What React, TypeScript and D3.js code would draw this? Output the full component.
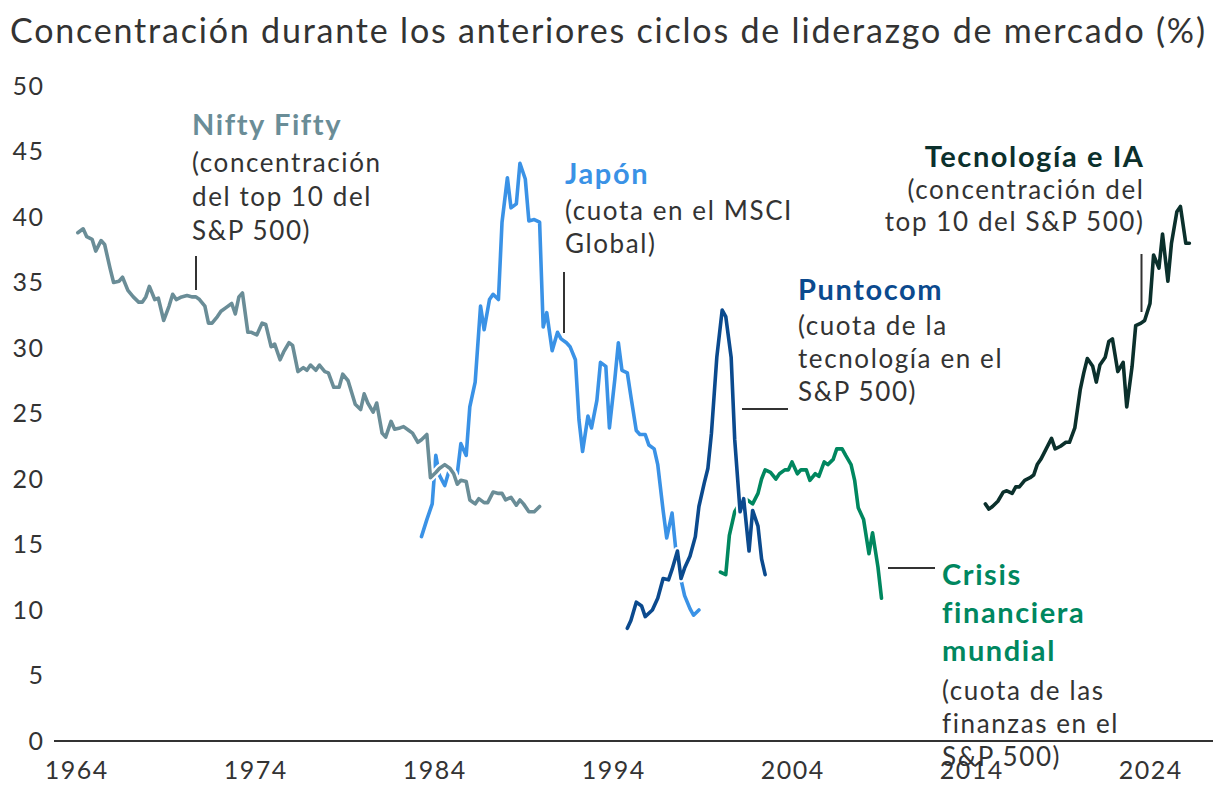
import React from "react";
import * as d3 from "d3";

type Pt = [number, number];

const yTicks = [0, 5, 10, 15, 20, 25, 30, 35, 40, 45, 50];
const xTicks = [1964, 1974, 1984, 1994, 2004, 2014, 2024];

const niftyFifty: Pt[] = [
  [1964.1, 38.8], [1964.4, 39.1], [1964.6, 38.5], [1964.9, 38.3], [1965.1, 37.4], [1965.4, 38.2], [1965.6, 37.9], [1965.9, 36.1],
  [1966.1, 35.0], [1966.4, 35.1], [1966.6, 35.4], [1966.9, 34.4], [1967.2, 33.9], [1967.5, 33.5], [1967.7, 33.5], [1967.9, 33.9],
  [1968.1, 34.7], [1968.4, 33.7], [1968.6, 33.8], [1968.9, 32.1], [1969.2, 33.2], [1969.4, 34.1], [1969.6, 33.7], [1969.9, 33.9],
  [1970.2, 34.0], [1970.5, 33.9], [1970.7, 33.9], [1970.9, 33.7], [1971.2, 33.2], [1971.4, 31.9], [1971.6, 31.9], [1971.9, 32.4],
  [1972.1, 32.8], [1972.4, 33.1], [1972.7, 33.4], [1972.9, 32.6], [1973.1, 33.9], [1973.3, 34.2], [1973.6, 31.2], [1973.8, 31.2],
  [1974.1, 31.0], [1974.4, 31.9], [1974.6, 31.8], [1974.9, 30.1], [1975.1, 30.3], [1975.4, 29.1], [1975.6, 29.7], [1975.9, 30.4],
  [1976.1, 30.2], [1976.4, 28.2], [1976.7, 28.5], [1976.9, 28.3], [1977.1, 28.7], [1977.4, 28.3], [1977.6, 28.7], [1977.9, 28.2],
  [1978.1, 28.1], [1978.4, 27.0], [1978.7, 27.0], [1978.9, 28.0], [1979.2, 27.5], [1979.4, 26.6], [1979.6, 25.7], [1979.9, 25.3],
  [1980.1, 26.5], [1980.3, 25.8], [1980.6, 25.1], [1980.8, 25.8], [1981.1, 23.5], [1981.3, 23.2], [1981.6, 24.4], [1981.8, 23.8],
  [1982.1, 23.9], [1982.3, 24.0], [1982.6, 23.7], [1982.8, 23.5], [1983.1, 22.8], [1983.3, 23.0], [1983.6, 23.4], [1983.8, 20.1],
  [1984.1, 20.5], [1984.3, 20.8], [1984.6, 21.1], [1984.9, 20.8], [1985.1, 20.4], [1985.3, 19.6], [1985.5, 19.9], [1985.8, 19.8],
  [1986.0, 18.4], [1986.3, 18.1], [1986.5, 18.5], [1986.8, 18.2], [1987.0, 18.2], [1987.3, 19.0], [1987.6, 18.9], [1987.8, 18.9],
  [1988.0, 18.4], [1988.3, 18.6], [1988.6, 18.0], [1988.8, 18.4], [1989.0, 18.1], [1989.3, 17.5], [1989.6, 17.5], [1989.9, 17.9],
];

const japan: Pt[] = [
  [1983.3, 15.6], [1983.6, 16.9], [1983.9, 18.1], [1984.1, 21.8], [1984.3, 20.3], [1984.6, 19.5], [1984.9, 20.9], [1985.1, 20.6],
  [1985.3, 20.4], [1985.5, 22.7], [1985.8, 21.8], [1986.0, 25.5], [1986.3, 27.4], [1986.6, 33.2], [1986.8, 31.4], [1987.1, 33.7],
  [1987.3, 34.1], [1987.6, 33.7], [1987.8, 39.6], [1988.1, 43.0], [1988.3, 40.7], [1988.6, 41.0], [1988.8, 44.1], [1989.1, 42.9],
  [1989.3, 39.7], [1989.6, 39.8], [1989.9, 39.6], [1990.1, 31.6], [1990.3, 32.7], [1990.6, 29.8], [1990.9, 31.2], [1991.1, 30.7],
  [1991.4, 30.4], [1991.6, 30.1], [1991.9, 29.1], [1992.1, 24.5], [1992.3, 22.1], [1992.6, 24.8], [1992.8, 23.9], [1993.1, 26.0],
  [1993.3, 28.9], [1993.6, 28.6], [1993.8, 23.9], [1994.1, 27.6], [1994.3, 30.4], [1994.5, 28.3], [1994.8, 28.1], [1995.0, 26.3],
  [1995.3, 23.7], [1995.5, 23.4], [1995.8, 23.4], [1996.0, 22.6], [1996.3, 22.3], [1996.5, 21.1], [1996.8, 17.6], [1997.0, 15.5],
  [1997.3, 17.4], [1997.5, 14.7], [1997.8, 12.3], [1998.0, 11.1], [1998.3, 10.1], [1998.5, 9.6], [1998.8, 10.0],
];

const dotcom: Pt[] = [
  [1994.8, 8.6], [1995.0, 9.2], [1995.3, 10.6], [1995.6, 10.3], [1995.8, 9.5], [1996.2, 10.0], [1996.5, 10.9], [1996.8, 12.4],
  [1997.1, 12.3], [1997.3, 13.1], [1997.6, 14.5], [1997.8, 12.4], [1998.0, 13.2], [1998.3, 14.1], [1998.6, 15.6], [1998.8, 17.9],
  [1999.1, 19.7], [1999.3, 20.8], [1999.5, 23.5], [1999.8, 29.3], [2000.1, 32.9], [2000.3, 32.4], [2000.6, 29.3], [2000.8, 23.0],
  [2001.1, 17.5], [2001.3, 18.5], [2001.6, 14.5], [2001.8, 17.6], [2002.1, 16.4], [2002.3, 13.9], [2002.5, 12.7],
];

const financialCrisis: Pt[] = [
  [2000.0, 12.9], [2000.3, 12.7], [2000.5, 15.7], [2000.8, 17.5], [2001.1, 18.2], [2001.3, 18.6], [2001.6, 18.3], [2001.8, 18.1],
  [2002.1, 18.9], [2002.3, 20.0], [2002.5, 20.7], [2002.8, 20.5], [2003.1, 20.0], [2003.3, 20.4], [2003.6, 20.7], [2003.8, 20.7],
  [2004.0, 21.3], [2004.3, 20.4], [2004.5, 20.7], [2004.8, 20.7], [2005.0, 19.9], [2005.3, 20.4], [2005.5, 20.2], [2005.8, 21.3],
  [2006.0, 21.1], [2006.3, 21.5], [2006.5, 22.3], [2006.8, 22.3], [2007.0, 21.8], [2007.3, 21.1], [2007.5, 19.9], [2007.7, 17.8],
  [2008.0, 16.9], [2008.3, 14.3], [2008.5, 15.9], [2008.8, 13.3], [2009.0, 10.9],
];

const techAI: Pt[] = [
  [2014.8, 18.1], [2015.0, 17.7], [2015.2, 17.9], [2015.5, 18.3], [2015.8, 19.0], [2016.0, 19.1], [2016.3, 18.9], [2016.5, 19.4],
  [2016.7, 19.4], [2017.0, 19.9], [2017.3, 20.1], [2017.5, 20.3], [2017.7, 21.1], [2017.9, 21.5], [2018.2, 22.3], [2018.5, 23.1],
  [2018.7, 22.3], [2019.0, 22.5], [2019.3, 22.8], [2019.5, 22.8], [2019.8, 23.9], [2020.1, 26.8], [2020.3, 28.1], [2020.5, 29.2],
  [2020.8, 28.6], [2021.0, 27.4], [2021.2, 28.7], [2021.5, 29.3], [2021.7, 30.5], [2021.9, 30.7], [2022.2, 28.2], [2022.5, 28.9],
  [2022.7, 25.5], [2023.0, 28.6], [2023.2, 31.7], [2023.5, 31.9], [2023.7, 32.1], [2024.0, 33.4], [2024.2, 37.1], [2024.5, 36.1],
  [2024.7, 38.7], [2025.0, 35.1], [2025.2, 38.0], [2025.5, 40.4], [2025.7, 40.8], [2026.0, 38.0], [2026.2, 38.0],
];

const W = 1220;
const H = 790;
const FONT = "Lato, 'Noto Sans', sans-serif";
const TEXT = "#333333";
const SUB_SIZE = 26;
const SUB_LS = 1.6;
const BOLD_SIZE = 29;
const BOLD_LS = 1.6;

const x = d3.scaleLinear().domain([1964, 2024]).range([76, 1150]);
const y = d3.scaleLinear().domain([0, 50]).range([741, 86]);

const line = d3
  .line<Pt>()
  .x((d) => x(d[0]))
  .y((d) => y(d[1]))
  .curve(d3.curveLinear);

const seriesOrder: { data: Pt[]; color: string }[] = [
  { data: japan, color: "#3A92E6" },
  { data: niftyFifty, color: "#6A8D97" },
  { data: financialCrisis, color: "#00875F" },
  { data: dotcom, color: "#0B4A8E" },
  { data: techAI, color: "#0B302C" },
];

function Label(props: {
  x: number;
  y: number;
  title: string[];
  sub: string[];
  color: string;
  anchor?: "start" | "end";
  titleGap?: number;
  subGap?: number;
  firstSubGap?: number;
}) {
  const { title, sub, color } = props;
  const anchor = props.anchor || "start";
  const tg = props.titleGap ?? 38;
  const sg = props.subGap ?? 33;
  const fsg = props.firstSubGap ?? 36;
  const lastTitleY = props.y + (title.length - 1) * tg;
  const bx = anchor === "end" ? props.x + BOLD_LS : props.x;
  const sx = anchor === "end" ? props.x + SUB_LS : props.x;
  return (
    <g fontFamily={FONT} textAnchor={anchor}>
      {title.map((t, i) => (
        <text
          key={"t" + i}
          x={bx}
          y={props.y + i * tg}
          fill={color}
          fontWeight={700}
          fontSize={BOLD_SIZE}
          letterSpacing={BOLD_LS}
        >
          {t}
        </text>
      ))}
      {sub.map((t, i) => (
        <text
          key={"s" + i}
          x={sx}
          y={lastTitleY + fsg + i * sg}
          fill={TEXT}
          fontSize={SUB_SIZE}
          letterSpacing={SUB_LS}
        >
          {t}
        </text>
      ))}
    </g>
  );
}

export default function App() {
  return (
    <svg
      width={W}
      height={H}
      viewBox={`0 0 ${W} ${H}`}
      style={{ position: "absolute", left: 0, top: 0, background: "#fff" }}
    >
      <rect x={0} y={0} width={W} height={H} fill="#fff" />
      <text
        x={10}
        y={43}
        fontFamily={FONT}
        fontSize={34}
        fill={TEXT}
        textLength={1195}
        lengthAdjust="spacing"
      >
        Concentración durante los anteriores ciclos de liderazgo de mercado (%)
      </text>

      {yTicks.map((t) => (
        <text
          key={t}
          x={44.5}
          y={y(t)}
          dy="0.35em"
          textAnchor="end"
          fontFamily={FONT}
          fontSize={25}
          letterSpacing={1.5}
          fill={TEXT}
        >
          {t}
        </text>
      ))}
      {xTicks.map((t) => (
        <text
          key={t}
          x={x(t) + 0.75}
          y={779}
          textAnchor="middle"
          fontFamily={FONT}
          fontSize={25}
          letterSpacing={1.5}
          fill={TEXT}
        >
          {t}
        </text>
      ))}
      <line x1={54} x2={1213} y1={y(0)} y2={y(0)} stroke={TEXT} strokeWidth={2} />

      {seriesOrder.map((s, i) => (
        <g key={i}>
          <path d={line(s.data) || ""} fill="none" stroke="#fff" strokeWidth={8} strokeLinejoin="round" />
          <path
            d={line(s.data) || ""}
            fill="none"
            stroke={s.color}
            strokeWidth={3.6}
            strokeLinejoin="round"
            strokeLinecap="round"
          />
        </g>
      ))}

      {/* leader lines */}
      <g stroke={TEXT} strokeWidth={2}>
        <line x1={196} x2={196} y1={256} y2={290} />
        <line x1={564} x2={564} y1={272} y2={333} />
        <line x1={742} x2={788} y1={409} y2={409} />
        <line x1={888} x2={935} y1={568} y2={568} />
        <line x1={1141.5} x2={1141.5} y1={254} y2={312} />
      </g>

      <Label
        x={192}
        y={135}
        title={["Nifty Fifty"]}
        sub={["(concentración", "del top 10 del", "S&P 500)"]}
        color="#6A8D97"
        firstSubGap={37}
        subGap={34}
      />
      <Label
        x={565}
        y={184}
        title={["Japón"]}
        sub={["(cuota en el MSCI", "Global)"]}
        color="#3A92E6"
        firstSubGap={36}
        subGap={33}
      />
      <Label
        x={798}
        y={300}
        title={["Puntocom"]}
        sub={["(cuota de la", "tecnología en el", "S&P 500)"]}
        color="#0B4A8E"
        firstSubGap={35}
        subGap={33}
      />
      <Label
        x={942}
        y={585}
        title={["Crisis", "financiera", "mundial"]}
        sub={["(cuota de las", "finanzas en el", "S&P 500)"]}
        color="#00875F"
        titleGap={38}
        firstSubGap={39}
        subGap={33}
      />
      <Label
        x={1143}
        y={167}
        title={["Tecnología e IA"]}
        sub={["(concentración del", "top 10 del S&P 500)"]}
        color="#0B302C"
        anchor="end"
        firstSubGap={32}
        subGap={32}
      />
    </svg>
  );
}
